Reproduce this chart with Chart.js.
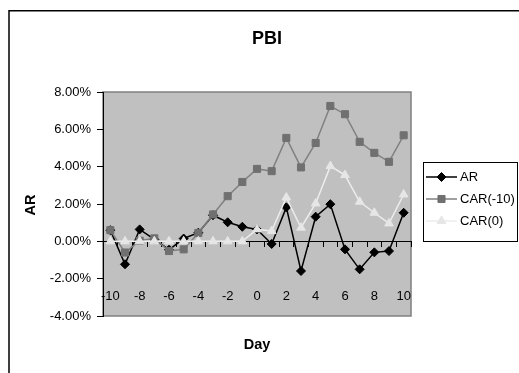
<!DOCTYPE html>
<html><head><meta charset="utf-8">
<script src="https://cdn.jsdelivr.net/npm/chart.js@4/dist/chart.umd.min.js"></script>
<style>html,body{margin:0;padding:0;background:#fff;width:519px;height:373px;overflow:hidden}
#wrap{position:absolute;left:0;top:0;width:519px;height:373px}</style>
</head><body><div id="wrap"><canvas id="c" width="519" height="373"></canvas></div>
<script>
const days = ['-10','-9','-8','-7','-6','-5','-4','-3','-2','-1','0','1','2','3','4','5','6','7','8','9','10'];
const ar    = [0.60,-1.23,0.64,0.10,-0.45,0.15,0.46,1.40,1.02,0.78,0.64,-0.14,1.82,-1.59,1.32,1.99,-0.43,-1.50,-0.59,-0.52,1.53];
const car10 = [0.60,-0.60,0.03,0.16,-0.52,-0.43,0.45,1.44,2.42,3.18,3.88,3.76,5.54,3.96,5.27,7.25,6.81,5.33,4.74,4.26,5.68];
const car0  = [0,0,0,0,0,0,0,0,0,0,0.64,0.55,2.35,0.73,2.03,4.03,3.55,2.12,1.53,0.96,2.51];
const seriesNames = ['AR','CAR(-10)','CAR(0)'];
const chartTitle = 'PBI';
const xTitle = 'Day';
const yTitle = 'AR';

const FONT = '"Liberation Sans", Arial, sans-serif';
const styles = [
  {line:'#000000', fill:'#000000', point:'rectRot', r:4.5},
  {line:'#808080', fill:'#707070', point:'rect', r:5},
  {line:'#ededed', fill:'#e6e6e6', point:'triangle', r:5}
];

const decor = {
  id:'decor',
  beforeDraw(chart){
    const ctx = chart.ctx, a = chart.chartArea;
    ctx.save();
    ctx.fillStyle = '#fff'; ctx.fillRect(0,0,chart.width,chart.height);
    ctx.strokeStyle = '#000'; ctx.lineWidth = 1.5;
    ctx.beginPath(); ctx.moveTo(9, 373); ctx.lineTo(9, 10.8); ctx.lineTo(519, 10.8); ctx.stroke();
    ctx.fillStyle = '#c0c0c0'; ctx.fillRect(a.left, a.top, a.right-a.left, a.bottom-a.top);
    ctx.strokeStyle = '#808080'; ctx.lineWidth = 1.5;
    ctx.strokeRect(a.left, a.top, a.right-a.left, a.bottom-a.top);
    ctx.restore();
  },
  afterDraw(chart){
    const ctx = chart.ctx;
    ctx.save();
    ctx.fillStyle = '#000';
    ctx.textAlign = 'center'; ctx.textBaseline = 'middle';
    ctx.font = 'bold 18px ' + FONT;
    ctx.fillText(chartTitle, 267, 39);
    ctx.font = 'bold 14.5px ' + FONT;
    ctx.fillText(xTitle, 257, 345);
    ctx.save(); ctx.translate(31, 205); ctx.rotate(-Math.PI/2); ctx.fillText(yTitle, 0, 0); ctx.restore();
    // legend
    ctx.strokeStyle = '#000'; ctx.lineWidth = 1;
    ctx.strokeRect(423.5, 162.5, 94, 79);
    const rows = [177, 199, 221];
    ctx.font = '13px ' + FONT; ctx.textAlign = 'left';
    rows.forEach((y, i) => {
      const s = styles[i];
      ctx.strokeStyle = s.line; ctx.lineWidth = 1.5;
      ctx.beginPath(); ctx.moveTo(426, y); ctx.lineTo(457, y); ctx.stroke();
      ctx.fillStyle = s.fill; ctx.strokeStyle = s.fill; ctx.lineWidth = 1;
      Chart.helpers.drawPoint(ctx, {pointStyle:s.point, radius:s.r, rotation:0, borderWidth:1}, 441.5, y);
      ctx.fillStyle = '#000';
      ctx.fillText(seriesNames[i], 460, y + 0.5);
    });
    ctx.restore();
  }
};

const datasets = [ar, car10, car0].map((d, i) => ({
  label: seriesNames[i], data: d,
  borderColor: styles[i].line, borderWidth: 1.5,
  pointStyle: styles[i].point, pointRadius: styles[i].r,
  pointBackgroundColor: styles[i].fill, pointBorderColor: styles[i].fill, pointBorderWidth: 1,
  tension: 0, fill: false, order: 3 - i
}));

new Chart(document.getElementById('c'), {
  type: 'line',
  data: { labels: days, datasets },
  options: {
    responsive: false, animation: false, devicePixelRatio: 1,
    layout: { padding: { left: 0, top: 92, right: 108, bottom: 57 } },
    plugins: { legend: {display:false}, title: {display:false}, tooltip: {enabled:false} },
    scales: {
      x: {
        type: 'category', axis: 'x', position: { y: 0 }, offset: true,
        grid: { offset: true, drawOnChartArea: false, drawTicks: true, tickLength: 5, color: '#000', lineWidth: 1 },
        border: { display: true, color: '#000', width: 1 },
        ticks: { autoSkip: false, maxRotation: 0, minRotation: 0, padding: 42, color: '#000',
          font: { size: 13, family: FONT },
          callback: (v, i) => (i % 2 === 0 ? days[i] : '') }
      },
      y: {
        min: -4, max: 8,
        grid: { drawOnChartArea: false, drawTicks: true, tickLength: 6, color: '#000' },
        border: { display: true, color: '#000', width: 1 },
        ticks: { stepSize: 2, padding: 6, color: '#000', font: { size: 13, family: FONT },
          callback: v => Number(v).toFixed(2) + '%' },
        afterFit: s => { s.width = 103; }
      }
    }
  },
  plugins: [decor]
});
</script></body></html>
